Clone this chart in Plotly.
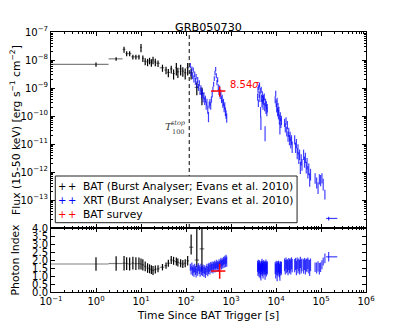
import plotly.graph_objects as go
from plotly.subplots import make_subplots

# ---- BAT burst analyser bins ----
bat_time = [1.0, 2.8, 4.2, 4.8, 5.6, 6.6, 7.7, 9.0, 10.0, 11.0, 12.4, 14.0, 15.5, 17.0, 18.5, 20.8,
            23.9, 30.0, 36.0, 40.5, 47.0, 53.0, 61.0, 66.0, 76.0, 85.0, 96.0, 109.0, 130.0, 174.0, 226.0]
bat_tstart = [0.1, 1.9, 3.9, 4.5, 5.2, 6.1, 7.1, 8.3, 9.5, 10.5, 11.7, 13.2, 14.7, 16.2, 17.7, 19.5,
              22.0, 26.0, 33.0, 38.0, 44.0, 50.0, 57.0, 63.0, 71.0, 80.0, 90.0, 102.0, 117.0, 155.0, 200.0]
bat_tstop = [1.9, 3.9, 4.5, 5.2, 6.1, 7.1, 8.3, 9.5, 10.5, 11.7, 13.2, 14.7, 16.2, 17.7, 19.5, 22.0,
             26.0, 33.0, 38.0, 44.0, 50.0, 57.0, 63.0, 71.0, 80.0, 90.0, 102.0, 117.0, 145.0, 195.0, 255.0]
bat_flux = [7.0e-9, 1.1e-8, 2.4e-8, 1.7e-8, 1.7e-8, 1.3e-8, 1.3e-8, 1.3e-8, 2.8e-8, 1.15e-8, 9.0e-9,
            8.5e-9, 9.5e-9, 8.2e-9, 1.0e-8, 8.5e-9, 7.6e-9, 5.3e-9, 4.4e-9, 3.6e-9, 4.8e-9, 3.3e-9,
            5.3e-9, 3.8e-9, 4.8e-9, 4.0e-9, 3.5e-9, 5.3e-9, 3.5e-9, 1.05e-9, 6.4e-10]
bat_flux_err = [1.2e-9, 1.5e-9, 6e-9, 3.5e-9, 3.5e-9, 2.5e-9, 2.5e-9, 2.5e-9, 9e-9, 3e-9, 2.5e-9,
                2.5e-9, 2.5e-9, 2.5e-9, 3e-9, 2.5e-9, 2e-9, 1.5e-9, 1.3e-9, 1.2e-9, 1.5e-9, 1.3e-9,
                2.5e-9, 1.5e-9, 2e-9, 1.5e-9, 1.5e-9, 2.5e-9, 1.5e-9, 5e-10, 4e-10]
bat_gamma = [1.75, 1.78, 1.8, 1.78, 1.75, 1.8, 1.77, 1.78, 1.75, 1.7, 1.6, 1.5, 1.45, 1.4, 1.35, 1.4,
             1.45, 1.55, 1.65, 1.8, 2.0, 1.95, 1.9, 1.85, 1.8, 1.75, 1.8, 1.95, 2.8, 2.0, 2.7]
bat_gamma_up = [0.42, 0.45, 0.45, 0.4, 0.4, 0.4, 0.4, 0.38, 0.35, 0.35, 0.3, 0.3, 0.28, 0.28, 0.28, 0.25,
                0.22, 0.2, 0.2, 0.22, 0.25, 0.25, 0.25, 0.25, 0.25, 0.25, 0.25, 0.3, 0.8, 2.5, 2.5]
bat_gamma_dn = [0.42, 0.45, 0.45, 0.4, 0.4, 0.4, 0.4, 0.38, 0.35, 0.35, 0.3, 0.3, 0.28, 0.28, 0.28, 0.25,
                0.22, 0.2, 0.2, 0.22, 0.25, 0.25, 0.25, 0.25, 0.25, 0.25, 0.25, 0.3, 0.45, 0.45, 1.35]

# ---- XRT burst analyser (orbit by orbit) ----
xrt_time = [125, 130, 135, 140, 145, 150, 156, 162, 168, 175, 182, 190, 198, 206, 214, 222, 231, 240,
            250, 260, 270, 281, 292, 304, 316, 328, 341, 354, 368, 382, 396, 411, 426, 441, 456, 472,
            488, 505, 522, 540, 558, 577, 596, 616, 637, 658, 680, 703, 727, 751, 776, 802,
            3900, 3980, 4060, 4140, 4220, 4300, 4380, 4460, 4540, 4620, 4700, 4790, 4880, 4970, 5060,
            5160, 5260, 5370, 5480, 5600, 5720, 5850, 5980, 6120, 6260, 6400,
            9600, 9850, 10100, 10350, 10600, 10850, 11100, 11350, 11600, 11900, 12200, 12500, 12850, 13200,
            15500, 16100, 16700, 17300, 17900, 18500, 19200, 19900, 20600, 21300, 22100, 22900,
            26000, 27200, 28400, 29600, 30800, 32100, 33400, 34800, 36300, 37800,
            41000, 43000, 45000, 47000, 49000, 51000, 53500, 56000, 58500,
            74000, 80000, 86000, 92000, 98000, 105000, 112000, 122000]
xrt_flux = [6.5e-9, 3.5e-9, 5.0e-9, 2.8e-9, 4.5e-9, 2.2e-9, 3.2e-9, 1.8e-9, 2.6e-9, 1.4e-9,
            2.0e-9, 1.1e-9, 1.5e-9, 8.0e-10, 1.0e-9, 6.0e-10, 7.5e-10, 4.5e-10, 5.5e-10, 3.5e-10,
            4.2e-10, 2.5e-10, 3.2e-10, 1.8e-10, 1.0e-10, 2.6e-10, 3.2e-10, 2.4e-10, 4.0e-10, 6.0e-10,
            9.0e-10, 1.4e-9, 2.2e-9, 3.5e-9, 4.8e-9, 2.8e-9, 1.6e-9, 2.0e-9, 1.1e-9, 7.5e-10,
            1.0e-9, 5.5e-10, 7.0e-10, 4.0e-10, 4.5e-10, 2.8e-10, 3.2e-10, 2.0e-10, 2.4e-10, 1.5e-10,
            1.2e-10, 9.0e-11,
            5.0e-10, 9.0e-10, 3.0e-10, 1.1e-9, 6.0e-10, 1.3e-9, 4.5e-10, 8.0e-10, 1.5e-10, 6.3e-11,
            9.0e-10, 4.5e-10, 3.0e-10, 6.0e-10, 4.0e-10, 2.5e-10, 4.5e-10, 3.5e-10, 5.0e-10, 2.2e-10,
            2.8e-11, 3.2e-10, 1.8e-10, 2.6e-10, 1.5e-10, 2.0e-10,
            4.0e-10, 6.5e-10, 3.0e-10, 2.0e-10, 3.5e-10, 1.5e-10, 2.2e-10, 1.2e-10, 1.6e-10, 8.0e-11,
            4.0e-11, 1.0e-10, 6.0e-11, 7.5e-11,
            6.0e-11, 4.0e-11, 7.0e-11, 3.0e-11, 5.0e-11, 2.0e-11, 2.8e-11, 1.5e-11, 2.0e-11, 1.2e-11,
            1.5e-11, 8.5e-12,
            1.5e-11, 8.0e-12, 1.1e-11, 5.0e-12, 7.0e-12, 3.5e-12, 4.5e-12, 1.6e-12, 3.0e-12, 2.0e-12,
            4.5e-12, 2.5e-12, 3.5e-12, 1.6e-12, 2.2e-12, 1.1e-12, 1.4e-12, 6.0e-13, 9.0e-13,
            6.4e-13, 4.5e-13, 3.0e-13, 6.0e-13, 5.5e-13, 6.5e-13, 4.0e-13, 1.7e-13]
xrt_flux_relerr = [0.20, 0.24, 0.18, 0.26, 0.20, 0.28, 0.22, 0.28, 0.22, 0.30,
                   0.24, 0.28, 0.25, 0.30, 0.26, 0.28, 0.25, 0.32, 0.28, 0.30,
                   0.27, 0.33, 0.28, 0.33, 0.40, 0.28, 0.27, 0.30, 0.25, 0.24,
                   0.22, 0.20, 0.19, 0.18, 0.17, 0.20, 0.22, 0.20, 0.24, 0.25,
                   0.23, 0.27, 0.25, 0.28, 0.27, 0.30, 0.28, 0.32, 0.30, 0.33,
                   0.34, 0.36,
                   0.28, 0.24, 0.30, 0.22, 0.26, 0.21, 0.30, 0.25, 0.40, 0.50, 0.24, 0.28, 0.32,
                   0.27, 0.30, 0.33, 0.28, 0.30, 0.27, 0.33, 0.55, 0.30, 0.34, 0.30, 0.35, 0.33,
                   0.28, 0.24, 0.30, 0.33, 0.28, 0.35, 0.32, 0.37, 0.34, 0.38, 0.45, 0.36, 0.38, 0.36,
                   0.32, 0.36, 0.30, 0.38, 0.33, 0.40, 0.36, 0.40, 0.36, 0.42, 0.38, 0.44,
                   0.36, 0.40, 0.36, 0.43, 0.40, 0.45, 0.41, 0.47, 0.43, 0.45,
                   0.40, 0.43, 0.40, 0.45, 0.43, 0.47, 0.45, 0.50, 0.45,
                   0.40, 0.43, 0.45, 0.40, 0.43, 0.40, 0.45, 0.38]
xrt_gamma = [1.55, 1.35, 1.6, 1.3, 1.45, 1.25, 1.5, 1.35, 1.2, 1.45,
             1.3, 1.55, 1.4, 1.25, 1.5, 1.35, 1.3, 1.45, 1.25, 1.4,
             1.2, 1.35, 1.5, 1.3, 1.45, 1.55, 1.4, 1.6, 1.5, 1.65,
             1.45, 1.6, 1.7, 1.5, 1.65, 1.75, 1.55, 1.7, 1.6, 1.8,
             1.65, 1.75, 1.9, 1.7, 1.85, 1.75, 1.95, 1.8, 2.0, 1.85,
             2.05, 1.9,
             1.6, 1.4, 1.7, 1.5, 1.35, 1.65, 1.55, 1.3, 1.45, 1.2, 1.6, 1.5, 1.75,
             1.4, 1.55, 1.3, 1.65, 1.5, 1.45, 1.6, 1.25, 1.5, 1.7, 1.4, 1.55, 1.5,
             1.5, 1.3, 1.6, 1.45, 0.95, 1.55, 1.4, 1.6, 1.5, 1.35, 1.2, 1.55, 1.45, 1.5,
             1.7, 1.55, 1.8, 1.6, 1.65, 1.5, 1.75, 1.6, 1.7, 1.55, 1.8, 1.65,
             1.65, 1.75, 1.5, 1.8, 1.6, 1.7, 1.55, 1.85, 1.6, 1.7,
             1.6, 1.75, 1.55, 1.7, 1.65, 1.8, 1.6, 1.5, 1.7,
             1.55, 1.5, 1.6, 1.45, 1.55, 1.7, 1.9, 2.1]
xrt_gamma_err = [0.22, 0.26, 0.24, 0.28, 0.25, 0.30, 0.26, 0.28, 0.30, 0.27,
                 0.29, 0.25, 0.28, 0.30, 0.26, 0.28, 0.30, 0.27, 0.31, 0.28,
                 0.32, 0.29, 0.27, 0.31, 0.33, 0.28, 0.30, 0.27, 0.29, 0.26,
                 0.30, 0.27, 0.25, 0.28, 0.24, 0.26, 0.29, 0.26, 0.28, 0.25,
                 0.28, 0.26, 0.24, 0.29, 0.26, 0.28, 0.25, 0.29, 0.26, 0.30,
                 0.28, 0.32,
                 0.35, 0.4, 0.32, 0.38, 0.42, 0.34, 0.36, 0.44, 0.38, 0.48, 0.35, 0.4, 0.33,
                 0.42, 0.37, 0.45, 0.34, 0.39, 0.41, 0.36, 0.48, 0.4, 0.33, 0.43, 0.38, 0.4,
                 0.38, 0.45, 0.35, 0.4, 0.28, 0.37, 0.42, 0.36, 0.4, 0.44, 0.5, 0.38, 0.42, 0.4,
                 0.4, 0.45, 0.36, 0.42, 0.4, 0.46, 0.38, 0.44, 0.4, 0.46, 0.37, 0.42,
                 0.42, 0.38, 0.46, 0.36, 0.44, 0.4, 0.46, 0.35, 0.44, 0.4,
                 0.45, 0.38, 0.46, 0.4, 0.42, 0.36, 0.44, 0.5, 0.4,
                 0.3, 0.35, 0.32, 0.36, 0.3, 0.28, 0.25, 0.3]

# last, long XRT bin
xrt_late_time = [1.48e5]
xrt_late_tstart = [1.30e5]
xrt_late_tstop = [2.30e5]
xrt_late_flux = [2.2e-14]
xrt_late_flux_err = [3.5e-15]
xrt_late_gamma = [2.2]
xrt_late_gamma_err = [0.3]

# ---- BAT survey ----
svy_time = [560]
svy_tstart = [360]
svy_tstop = [750]
svy_flux = [7.8e-10]
svy_flux_up = [3.2e-10]
svy_flux_dn = [2.9e-10]
svy_gamma = [1.31]
svy_gamma_up = [0.46]
svy_gamma_dn = [0.48]
svy_signif = "8.54"

t100_stop = 118.0

FONT = "DejaVu Sans"
BLUE = "rgba(0,0,255,0.75)"

fig = make_subplots(rows=2, cols=1, shared_xaxes=True, vertical_spacing=0,
                    row_heights=[0.754, 0.246])


def errbars(row, x, y, xm, xp, ym, yp, color, xcolor, width=1.0):
    fig.add_trace(go.Scatter(
        x=x, y=y, mode="markers", marker=dict(size=0.1, color=color),
        error_x=dict(type="data", symmetric=False, array=xp, arrayminus=xm,
                     color=xcolor, thickness=width, width=0),
        error_y=dict(type="data", symmetric=False, array=yp, arrayminus=ym,
                     color=color, thickness=width, width=0),
        showlegend=False, hoverinfo="skip"), row=row, col=1)


# BAT
bat_xm = [t - a for t, a in zip(bat_time, bat_tstart)]
bat_xp = [b - t for t, b in zip(bat_time, bat_tstop)]
errbars(1, bat_time, bat_flux, bat_xm, bat_xp, bat_flux_err, bat_flux_err,
        "black", "rgba(0,0,0,0.5)", 1.2)
errbars(2, bat_time, bat_gamma, bat_xm, bat_xp, bat_gamma_dn, bat_gamma_up,
        "black", "rgba(0,0,0,0.5)", 1.2)

# XRT
zeros = [0] * len(xrt_time)
xrt_ferr = [f * r for f, r in zip(xrt_flux, xrt_flux_relerr)]
errbars(1, xrt_time, xrt_flux, zeros, zeros, xrt_ferr, xrt_ferr, BLUE, BLUE, 1.2)
errbars(2, xrt_time, xrt_gamma, zeros, zeros, xrt_gamma_err, xrt_gamma_err, BLUE, BLUE, 1.2)
late_xm = [t - a for t, a in zip(xrt_late_time, xrt_late_tstart)]
late_xp = [b - t for t, b in zip(xrt_late_time, xrt_late_tstop)]
errbars(1, xrt_late_time, xrt_late_flux, late_xm, late_xp, xrt_late_flux_err, xrt_late_flux_err,
        BLUE, BLUE, 1.2)
errbars(2, xrt_late_time, xrt_late_gamma, late_xm, late_xp, xrt_late_gamma_err, xrt_late_gamma_err,
        BLUE, BLUE, 1.2)

# BAT survey
svy_xm = [t - a for t, a in zip(svy_time, svy_tstart)]
svy_xp = [b - t for t, b in zip(svy_time, svy_tstop)]
errbars(1, svy_time, svy_flux, svy_xm, svy_xp, svy_flux_dn, svy_flux_up, "red", "red", 1.5)
errbars(2, svy_time, svy_gamma, svy_xm, svy_xp, svy_gamma_dn, svy_gamma_up, "red", "red", 1.5)

# T100 stop
fig.add_trace(go.Scatter(x=[t100_stop, t100_stop], y=[1e-14, 1e-7], mode="lines",
                         line=dict(color="black", width=1, dash="4px,3px"),
                         showlegend=False, hoverinfo="skip"), row=1, col=1)

# axes
MINUS = "\u2212"
dec_x = list(range(-1, 7))
minor_x = [m * 10.0 ** d for d in range(-1, 6) for m in range(2, 10)]
minor_y = [m * 10.0 ** d for d in range(-14, -7) for m in range(2, 10)]
axis_common = dict(showline=True, linecolor="black", linewidth=1, mirror="allticks",
                   ticks="inside", ticklen=4, tickcolor="black", showgrid=False, zeroline=False,
                   automargin=False, tickfont=dict(family=FONT, size=10, color="black"))

xcfg = dict(type="log", range=[-1, 6], tickmode="array", tickvals=[10.0 ** d for d in dec_x],
            ticktext=["10<sup>%s</sup>" % (str(d).replace("-", MINUS)) for d in dec_x],
            minor=dict(ticks="inside", ticklen=2, tickcolor="black", tickmode="array",
                       tickvals=minor_x), **axis_common)
fig.update_xaxes(showticklabels=False, row=1, col=1, **xcfg)
fig.update_xaxes(showticklabels=True, row=2, col=1,
                 title=dict(text="Time Since BAT Trigger [s]", standoff=5,
                            font=dict(family=FONT, size=10.8, color="black")), **xcfg)

dec_y = list(range(-13, -6))
fig.update_yaxes(type="log", range=[-14, -7], tickmode="array", tickvals=[10.0 ** d for d in dec_y],
                 ticktext=["10<sup>%s</sup>" % (str(d).replace("-", MINUS)) for d in dec_y],
                 minor=dict(ticks="inside", ticklen=2, tickcolor="black", tickmode="array",
                            tickvals=minor_y),
                 title=dict(text="Flux (15-50 keV) [erg s<sup>%s1</sup> cm<sup>%s2</sup>]" % (MINUS, MINUS),
                            standoff=5, font=dict(family=FONT, size=10.8, color="black")),
                 row=1, col=1, **axis_common)
gvals = [0.0, 0.5, 1.0, 1.5, 2.0, 2.5, 3.0, 3.5, 4.0]
fig.update_yaxes(range=[0, 4], tickmode="array", tickvals=gvals, ticktext=["%.1f" % v for v in gvals],
                 title=dict(text="Photon Index", standoff=10,
                            font=dict(family=FONT, size=10.8, color="black")),
                 row=2, col=1, **axis_common)

# in-plot labels
annos = [
    dict(x=2.94, y=-8.86, xref="x", yref="y", text=svy_signif + "<i>σ</i>", showarrow=False,
         xanchor="left", font=dict(family=FONT, size=10, color="red")),
    dict(x=1.629, y=-10.39, xref="x", yref="y", text="<i>T</i>", showarrow=False,
         font=dict(family="DejaVu Serif", size=10, color="#333333")),
    dict(x=1.84, y=-10.24, xref="x", yref="y", text="<i>stop</i>", showarrow=False,
         font=dict(family="DejaVu Serif", size=6.5, color="#333333")),
    dict(x=1.82, y=-10.58, xref="x", yref="y", text="100", showarrow=False,
         font=dict(family="DejaVu Serif", size=6.5, color="#333333")),
]

# hand-made legend (matplotlib-like compact box); page pixels -> paper coords
PX0, PW, PY1, PH = 50.7, 315.3, 292.0, 260.0


def px(xp):
    return (xp - PX0) / PW


def py(yp):
    return (PY1 - yp) / PH


leg_items = [("BAT (Burst Analyser; Evans et al. 2010)", "black"),
             ("XRT (Burst Analyser; Evans et al. 2010)", "blue"),
             ("BAT survey", "red")]
fig.add_shape(type="rect", xref="paper", yref="paper", x0=px(55), x1=px(297), y0=py(222.7), y1=py(176),
              fillcolor="white", line=dict(color="#222222", width=1), layer="above")
for i, (name, col) in enumerate(leg_items):
    yc = py(186.3 + 14.2 * i)
    for xs in (61.7, 71.7):
        annos.append(dict(x=px(xs), y=yc, xref="paper", yref="paper", text="+", showarrow=False,
                          xanchor="center", yanchor="middle",
                          font=dict(family=FONT, size=10, color=col)))
    annos.append(dict(x=px(80.5), y=yc, xref="paper", yref="paper", text=name, showarrow=False,
                      xanchor="left", yanchor="middle", font=dict(family=FONT, size=10.7, color="black")))

# the page body adds an 8px offset, so the figure is 8px smaller with 8px less left/top margin
fig.update_layout(
    width=399, height=318,
    margin=dict(l=43, r=41, t=24, b=34, autoexpand=False),
    paper_bgcolor="white", plot_bgcolor="white",
    font=dict(family=FONT, size=10, color="black"),
    title=dict(text="GRB050730", x=0.5, xref="paper", y=1 - 19.5 / 318, yanchor="middle",
               font=dict(family=FONT, size=11.2, color="black")),
    annotations=annos,
    showlegend=False,
)

fig.write_html("out.html")
